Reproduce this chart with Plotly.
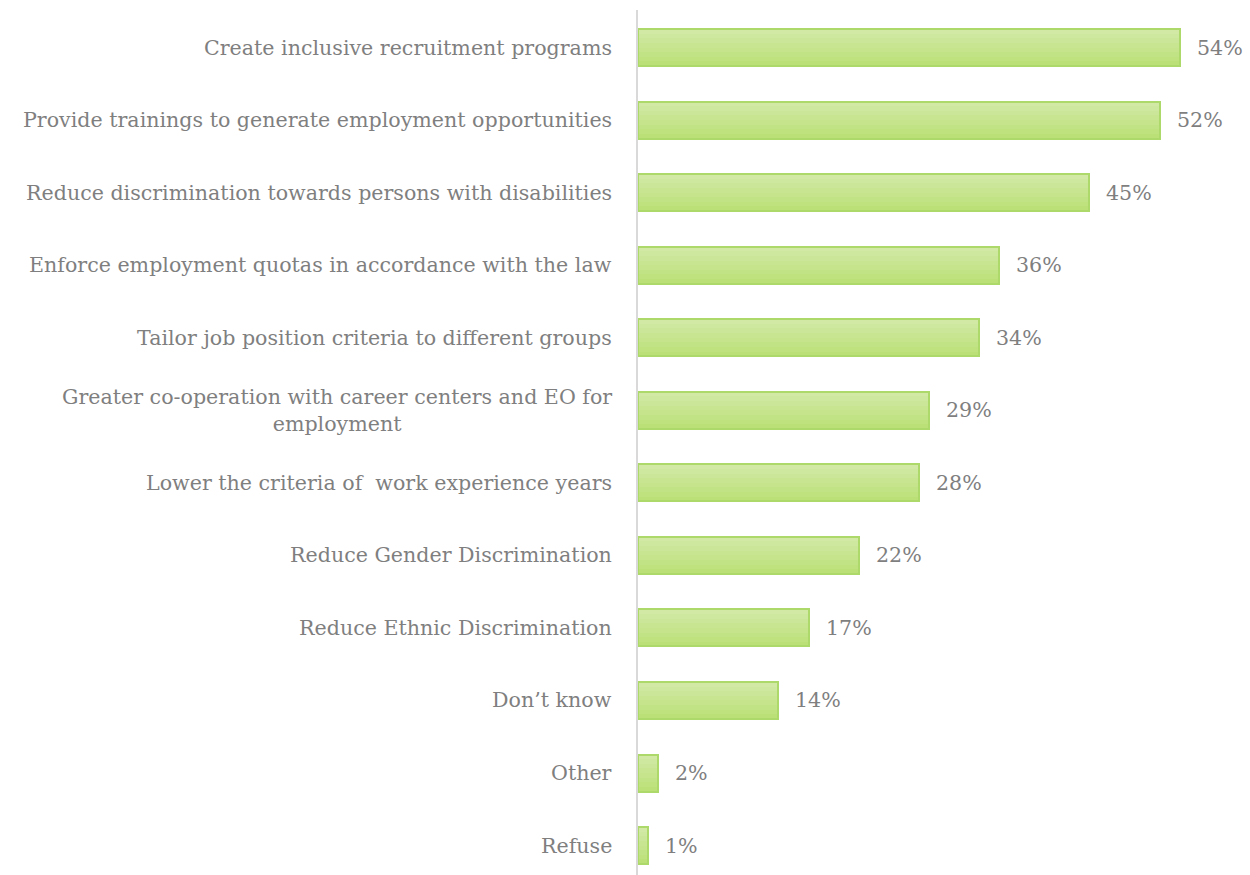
import plotly.graph_objects as go

categories = [
    "Create inclusive recruitment programs",
    "Provide trainings to generate employment opportunities",
    "Reduce discrimination towards persons with disabilities",
    "Enforce employment quotas in accordance with the law",
    "Tailor job position criteria to different groups",
    "Greater co-operation with career centers and EO for<br>employment",
    "Lower the criteria of  work experience years",
    "Reduce Gender Discrimination",
    "Reduce Ethnic Discrimination",
    "Don\u2019t know",
    "Other",
    "Refuse",
]
values = [54, 52, 45, 36, 34, 29, 28, 22, 17, 14, 2, 1]
value_labels = [f"{v}%" for v in values]

FONT = "DejaVu Serif"
FONT_SIZE = 20.6
TEXT_GRAY = "#7f7f7f"
BAR_W = 0.51
N_SLICES = 8
TOP_RGB = (209, 233, 165)
BOT_RGB = (188, 224, 120)

idx = list(range(len(categories)))
fig = go.Figure()

# vertical gradient built from thin horizontal slices
for k in range(N_SLICES):
    t = k / (N_SLICES - 1)
    rgb = tuple(round(a + (b - a) * t) for a, b in zip(TOP_RGB, BOT_RGB))
    fig.add_trace(go.Bar(
        y=idx, x=values, orientation="h",
        width=BAR_W / N_SLICES,
        offset=-BAR_W / 2 + k * BAR_W / N_SLICES,
        marker=dict(color=f"rgb{rgb}", line=dict(width=0)),
        hoverinfo="skip", showlegend=False,
    ))

# outline
fig.add_trace(go.Bar(
    y=idx, x=values, orientation="h", width=BAR_W, offset=-BAR_W / 2,
    marker=dict(color="rgba(0,0,0,0)", line=dict(color="#acd96a", width=2)),
    showlegend=False,
))

annotations = []
for i, (c, v, lab) in enumerate(zip(categories, values, value_labels)):
    annotations.append(dict(
        x=v, y=i, xref="x", yref="y", text=lab, showarrow=False,
        xanchor="left", yanchor="middle", xshift=15,
        font=dict(family=FONT, size=FONT_SIZE, color=TEXT_GRAY),
    ))
    annotations.append(dict(
        x=0, y=i, xref="paper", yref="y", text=c, showarrow=False,
        xanchor="right", yanchor="middle", align="center", xshift=-24,
        font=dict(family=FONT, size=FONT_SIZE, color=TEXT_GRAY),
    ))

fig.update_layout(
    width=1250, height=875,
    margin=dict(l=638, r=0, t=10, b=0),
    paper_bgcolor="white", plot_bgcolor="white",
    barmode="overlay", bargap=0,
    annotations=annotations,
    xaxis=dict(range=[0, 61], visible=False, fixedrange=True),
    yaxis=dict(range=[11.406, -0.517], showticklabels=False, showgrid=False,
               zeroline=False, showline=True, linecolor="#d9d9d9", linewidth=2,
               ticks=""),
)

fig.write_html("out.html")
